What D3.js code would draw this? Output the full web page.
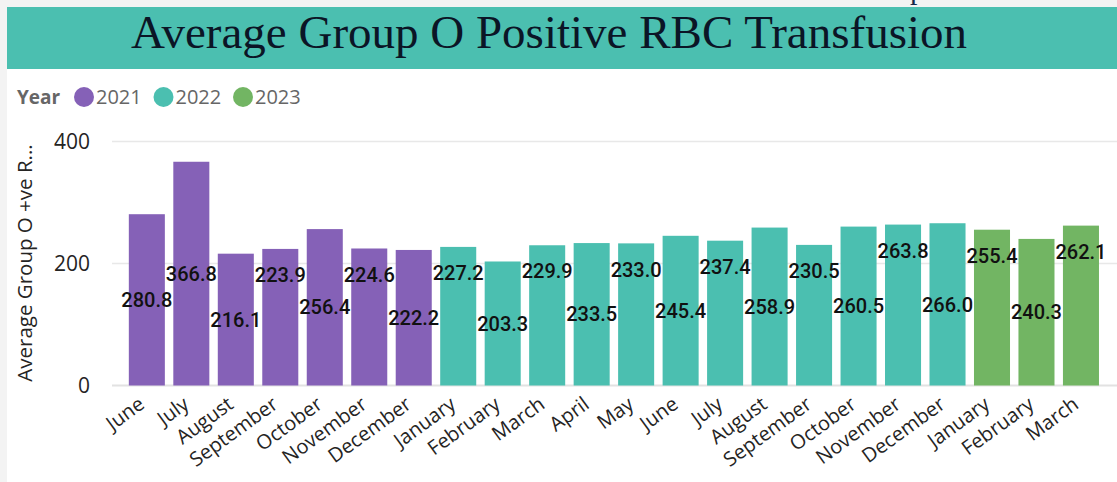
<!DOCTYPE html>
<html>
<head>
<meta charset="utf-8">
<script src="https://cdn.jsdelivr.net/npm/d3@7"></script>
<style>
  body { margin: 0; background: #f3f3f3; }
  svg { display: block; }
</style>
</head>
<body>
<div class="d3-content"></div>
<script>
const SVG_WIDTH = 1117;
const SVG_HEIGHT = 482;

// data
const months = ['June', 'July', 'August', 'September', 'October', 'November', 'December',
                'January', 'February', 'March', 'April', 'May', 'June', 'July', 'August',
                'September', 'October', 'November', 'December',
                'January', 'February', 'March'];
const years = [2021, 2021, 2021, 2021, 2021, 2021, 2021,
               2022, 2022, 2022, 2022, 2022, 2022, 2022, 2022, 2022, 2022, 2022, 2022,
               2023, 2023, 2023];
const values = [280.8, 366.8, 216.1, 223.9, 256.4, 224.6, 222.2,
                227.2, 203.3, 229.9, 233.5, 233.0, 245.4, 237.4, 258.9, 230.5, 260.5, 263.8, 266.0,
                255.4, 240.3, 262.1];
const legendYears = [2021, 2022, 2023];
const yTicks = [0, 200, 400];

const colors = { 2021: '#8561b7', 2022: '#4bbfb0', 2023: '#72b563' };

const chart_data = months.map((m, i) => ({
  key: i + '-' + m,
  month: m,
  year: years[i],
  value: values[i],
}));

const svg = d3.select('.d3-content')
              .append('svg')
              .attr('width', SVG_WIDTH)
              .attr('height', SVG_HEIGHT);

// card
svg.append('rect')
   .attr('x', 7).attr('y', 7)
   .attr('width', SVG_WIDTH - 7).attr('height', SVG_HEIGHT - 7)
   .attr('fill', '#fff');

// clipped descender of a heading above the card
svg.append('text')
   .text('p')
   .attr('x', 910).attr('y', -1)
   .attr('font-family', 'Liberation Serif')
   .attr('font-size', 30)
   .attr('fill', '#13294b');

// title banner
svg.append('rect')
   .attr('x', 7).attr('y', 7)
   .attr('width', SVG_WIDTH - 7).attr('height', 62)
   .attr('fill', '#4bbfb0');

svg.append('text')
   .text('Average Group O Positive RBC Transfusion')
   .attr('x', 549).attr('y', 48)
   .attr('text-anchor', 'middle')
   .attr('font-family', 'Liberation Serif')
   .attr('font-size', 47)
   .attr('fill', '#0b1526');

// legend
const legend = svg.append('g').attr('font-family', 'Open Sans');
legend.append('text')
      .text('Year')
      .attr('x', 17).attr('y', 104)
      .attr('font-weight', 'bold')
      .attr('font-size', 19)
      .attr('fill', '#666');

const legendX = d3.scalePoint().domain(legendYears).range([84, 243]);
const items = legend.selectAll('.item')
  .data(legendYears)
  .enter().append('g')
  .attr('transform', d => `translate(${legendX(d)}, 97)`);
items.append('circle').attr('r', 10).attr('fill', d => colors[d]);
items.append('text')
     .text(d => d)
     .attr('x', 12).attr('y', 7)
     .attr('font-size', 20)
     .attr('fill', '#666');

// scales
const xscale = d3.scaleBand()
  .domain(chart_data.map(d => d.key))
  .range([124.6, 1103.2])
  .paddingInner(0.19)
  .paddingOuter(0.095);

const yscale = d3.scaleLinear()
  .domain([0, 400])
  .range([385.5, 141.5]);

// gridlines
svg.append('g')
   .selectAll('line')
   .data(yTicks)
   .enter().append('line')
   .attr('x1', 112).attr('x2', SVG_WIDTH)
   .attr('y1', d => yscale(d)).attr('y2', d => yscale(d))
   .attr('stroke', d => d === 0 ? '#e2e2e2' : '#e8e8e8')
   .attr('stroke-width', d => d === 0 ? 2 : 1.5);

// y axis labels
svg.append('g')
   .call(d3.axisLeft(yscale).tickValues(yTicks).tickSize(0).tickPadding(0))
   .attr('transform', 'translate(90, 0)')
   .call(g => g.select('.domain').remove())
   .call(g => g.selectAll('text')
               .attr('font-family', 'Open Sans')
               .attr('font-size', 21)
               .attr('fill', '#252423'));

// y axis title
svg.append('text')
   .text('Average Group O +ve R...')
   .attr('transform', 'translate(32, 263) rotate(-90)')
   .attr('text-anchor', 'middle')
   .attr('font-family', 'Open Sans')
   .attr('font-size', 20.5)
   .attr('fill', '#252423');

// bars
svg.append('g')
   .selectAll('rect')
   .data(chart_data)
   .enter().append('rect')
   .attr('x', d => xscale(d.key))
   .attr('y', d => yscale(d.value))
   .attr('width', xscale.bandwidth())
   .attr('height', d => yscale(0) - yscale(d.value))
   .attr('fill', d => colors[d.year]);

// data labels: centred in the bar, but moved up near the bar top
// when they would collide with the label of the previous bar
const LABEL_H = 20;
let prevY = -Infinity;
chart_data.forEach(d => {
  let ly = (yscale(d.value) + yscale(0)) / 2;
  if (Math.abs(ly - prevY) < LABEL_H) ly = yscale(d.value) + 26;
  d.labelY = ly;
  prevY = ly;
});

svg.append('g')
   .selectAll('text')
   .data(chart_data)
   .enter().append('text')
   .text(d => d.value.toFixed(1))
   .attr('x', d => xscale(d.key) + xscale.bandwidth() / 2)
   .attr('y', d => d.labelY)
   .attr('dy', '0.36em')
   .attr('text-anchor', 'middle')
   .attr('font-family', 'Roboto')
   .attr('font-weight', 500)
   .attr('font-size', 20)
   .attr('fill', '#111');

// x axis labels
svg.append('g')
   .selectAll('text')
   .data(chart_data)
   .enter().append('text')
   .text(d => d.month)
   .attr('transform', d => `translate(${xscale(d.key) + xscale.bandwidth() / 2 - 1}, 407) rotate(-36)`)
   .attr('text-anchor', 'end')
   .attr('font-family', 'Open Sans')
   .attr('font-size', 20)
   .attr('fill', '#252423');
</script>
</body>
</html>
